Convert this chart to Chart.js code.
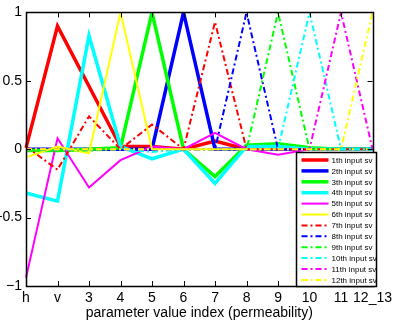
<!DOCTYPE html>
<html>
<head>
<meta charset="utf-8">
<script src="https://cdn.jsdelivr.net/npm/chart.js@4/dist/chart.umd.min.js"></script>
<style>
  html, body { margin: 0; padding: 0; background: #fff; }
  #wrap { width: 396px; height: 330px; }
</style>
</head>
<body>
<div id="wrap"><canvas id="c"></canvas></div>
<script>
// x categories and y ticks
const categories = ['h', 'v', '3', '4', '5', '6', '7', '8', '9', '10', '11', '12_13'];
const yTicks = [-1, -0.5, 0, 0.5, 1];
const seriesNames = ['1th input sv', '2th input sv', '3th input sv', '4th input sv',
  '5th input sv', '6th input sv', '7th input sv', '8th input sv', '9th input sv',
  '10th input sv', '11th input sv', '12th input sv'];

// singular vector components
const sv1  = [0.01, 0.90, 0.46, 0.02, 0.02, 0.00, 0.06, 0.00, 0.00, 0.00, 0.00, 0.00];
const sv2  = [0.00, 0.00, 0.00, 0.00, 0.00, 1.00, 0.00, 0.00, 0.00, 0.00, 0.00, 0.00];
const sv3  = [-0.01, -0.01, 0.00, 0.01, 1.00, 0.00, -0.20, 0.03, 0.04, 0.01, 0.00, 0.00];
const sv4  = [-0.32, -0.38, 0.83, 0.02, -0.07, 0.00, -0.25, 0.02, 0.02, 0.00, 0.00, 0.00];
const sv5  = [-0.94, 0.08, -0.28, -0.08, 0.02, 0.00, 0.12, 0.00, -0.04, 0.00, 0.00, 0.00];
const sv6  = [-0.06, 0.02, -0.03, 1.00, 0.00, 0.00, 0.00, 0.00, 0.00, 0.00, 0.00, 0.00];
const sv7  = [0.02, -0.15, 0.24, 0.00, 0.18, 0.00, 0.93, 0.00, 0.00, 0.00, 0.00, 0.00];
const sv8  = [0.00, 0.00, 0.00, 0.00, -0.01, 0.00, 0.00, 1.00, 0.00, 0.00, 0.00, 0.00];
const sv9  = [0.00, -0.01, -0.01, 0.00, 0.00, 0.00, 0.00, 0.00, 1.00, 0.00, 0.00, 0.00];
const sv10 = [0.00, 0.00, 0.00, 0.00, -0.02, 0.00, 0.00, 0.00, 0.00, 1.00, 0.00, 0.00];
const sv11 = [0.00, 0.00, 0.00, 0.00, 0.00, 0.00, 0.00, 0.00, 0.00, 0.00, 1.00, 0.00];
const sv12 = [0.00, 0.00, 0.00, 0.00, 0.00, 0.00, 0.00, 0.00, 0.00, 0.00, 0.00, 1.00];
const allSeries = [sv1, sv2, sv3, sv4, sv5, sv6, sv7, sv8, sv9, sv10, sv11, sv12];

// MATLAB-ish styling
const COLORS = ['#ff0000', '#0000ff', '#00ff00', '#00ffff', '#ff00ff', '#ffff00'];
const DASH_DOT = [6, 3, 2, 3];
const FONT = 'Liberation Sans, Arial, sans-serif';

const styleOf = (i) => ({
  color: COLORS[i % 6],
  width: i < 4 ? 3.5 : 2,
  dash: i < 6 ? [] : DASH_DOT
});

const fmtTick = (v) => (v < 0 ? '\u2212' + Math.abs(v) : String(v));

// box with inward ticks, plus legend inside the axes
const matlabAxes = {
  id: 'matlabAxes',
  afterDraw(chart) {
    const { ctx, chartArea: a, scales } = chart;
    const t = 5;
    ctx.save();
    ctx.strokeStyle = '#000';
    ctx.lineWidth = 1;
    ctx.beginPath();
    categories.forEach((c, i) => {
      const x = Math.round(scales.x.getPixelForValue(i)) + 0.5;
      ctx.moveTo(x, a.bottom); ctx.lineTo(x, a.bottom - t);
      ctx.moveTo(x, a.top); ctx.lineTo(x, a.top + t);
    });
    yTicks.forEach((v) => {
      const y = Math.round(scales.y.getPixelForValue(v)) + 0.5;
      ctx.moveTo(a.left, y); ctx.lineTo(a.left + t, y);
      ctx.moveTo(a.right, y); ctx.lineTo(a.right - t, y);
    });
    ctx.stroke();
    ctx.lineWidth = 1.5;
    ctx.strokeRect(Math.round(a.left) + 0.5, Math.round(a.top) + 0.5,
      Math.round(a.right - a.left), Math.round(a.bottom - a.top));

    // legend
    const bx = Math.round(a.right) - 77 + 0.5, by = Math.round(a.bottom) - 134 + 0.5;
    const bw = 80, bh = 134;
    ctx.fillStyle = '#fff';
    ctx.fillRect(bx, by, bw, bh);
    ctx.strokeRect(bx, by, bw, bh);
    ctx.font = '8px ' + FONT;
    ctx.textBaseline = 'middle';
    seriesNames.forEach((name, i) => {
      const s = styleOf(i);
      const y = by + 7.5 + i * 10.9;
      ctx.beginPath();
      ctx.setLineDash(s.dash);
      ctx.strokeStyle = s.color;
      ctx.lineWidth = s.width;
      ctx.moveTo(bx + 5, y);
      ctx.lineTo(bx + 32, y);
      ctx.stroke();
      ctx.setLineDash([]);
      ctx.fillStyle = '#000';
      ctx.fillText(name, bx + 35, y + 0.5);
    });
    ctx.restore();
  }
};

const datasets = allSeries.map((data, i) => {
  const s = styleOf(i);
  return {
    label: seriesNames[i],
    data,
    borderColor: s.color,
    backgroundColor: s.color,
    borderWidth: s.width,
    borderDash: s.dash,
    pointRadius: 0,
    tension: 0,
    fill: false,
    order: allSeries.length - i
  };
});

new Chart(document.getElementById('c'), {
  type: 'line',
  data: { labels: categories, datasets },
  options: {
    responsive: true,
    maintainAspectRatio: false,
    animation: false,
    events: [],
    layout: { padding: { top: 10, right: 19, left: 0, bottom: 0 } },
    plugins: {
      legend: { display: false },
      tooltip: { enabled: false }
    },
    scales: {
      x: {
        type: 'category',
        offset: false,
        grid: { display: false, drawTicks: false },
        border: { display: false },
        ticks: {
          color: '#000',
          font: { family: FONT, size: 14 },
          padding: 4,
          maxRotation: 0,
          autoSkip: false
        },
        title: {
          display: true,
          text: 'parameter value index (permeability)',
          color: '#000',
          font: { family: FONT, size: 14 },
          padding: { top: 0, bottom: 8 }
        },
        afterFit: (scale) => { scale.height = 44; }
      },
      y: {
        min: -1,
        max: 1,
        grid: { display: false, drawTicks: false },
        border: { display: false },
        afterBuildTicks: (scale) => { scale.ticks = yTicks.map((v) => ({ value: v })); },
        ticks: {
          color: '#000',
          font: { family: FONT, size: 14 },
          padding: 4,
          callback: (v) => fmtTick(v)
        },
        afterFit: (scale) => { scale.width = 26; }
      }
    }
  },
  plugins: [matlabAxes]
});
</script>
</body>
</html>
